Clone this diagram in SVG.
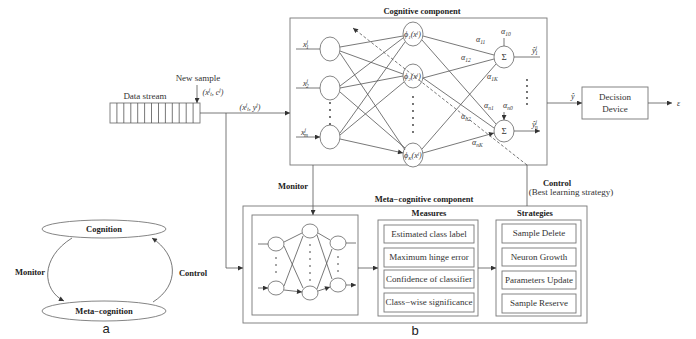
<svg xmlns="http://www.w3.org/2000/svg" width="696" height="339" viewBox="0 0 696 339">
<defs>
<marker id="ah" viewBox="0 0 10 10" refX="10" refY="5" markerWidth="6" markerHeight="5" markerUnits="userSpaceOnUse" orient="auto"><path d="M0,0 L10,5 L0,10 z" fill="#333"/></marker>
<style>
.ln{stroke:#555;stroke-width:0.8;fill:none}
.a{stroke:#555;stroke-width:0.8;fill:none;marker-end:url(#ah)}
.bx{stroke:#777;stroke-width:0.9;fill:#fff}
.t{font-family:"Liberation Serif",serif;font-size:9px;fill:#333}
.b{font-family:"Liberation Serif",serif;font-size:8.5px;font-weight:bold;fill:#222}
.s{font-family:"Liberation Serif",serif;font-size:8px;fill:#333;font-style:italic}
.lab{font-family:"Liberation Sans",sans-serif;font-size:13px;fill:#222}
.nd{stroke:#666;stroke-width:0.8;fill:#fff}
.dot{fill:#333}
</style>
</defs>
<rect width="696" height="339" fill="#fff"/>

<!-- Panel a -->
<g id="cognition"><ellipse cx="104" cy="229" rx="62" ry="9" class="nd"/><text x="104" y="232" class="b" text-anchor="middle">Cognition</text></g>
<g id="metacognition"><ellipse cx="104" cy="311" rx="62" ry="10" class="nd"/><text x="104" y="314" class="b" text-anchor="middle">Meta−cognition</text></g>
<g id="connectors-a">
<path d="M72,238 C40,258 42,290 64,301" class="a"/>
<path d="M153,302 C180,285 178,255 152,238" class="a"/>
<text x="30" y="275" class="b" text-anchor="middle">Monitor</text>
<text x="193" y="276" class="b" text-anchor="middle">Control</text>
</g>
<text x="106" y="333" class="lab" text-anchor="middle">a</text>

<!-- Data stream -->
<g id="datastream">
<rect x="110" y="103" width="90" height="20" class="bx"/>
<path d="M116.9,103v20M123.8,103v20M130.8,103v20M137.7,103v20M144.6,103v20M151.5,103v20M158.5,103v20M165.4,103v20M172.3,103v20M179.2,103v20M186.2,103v20M193.1,103v20" class="ln"/>
<text x="145" y="99" class="t" text-anchor="middle" font-size="9.5">Data stream</text>
<text x="198" y="81" class="t" text-anchor="middle" font-size="9.5">New sample</text>
<text x="213" y="95" class="s" text-anchor="middle">(x<tspan font-size="5.5" dy="-3">j</tspan><tspan font-size="5.5" dy="4">t</tspan><tspan dy="-1">, c</tspan><tspan font-size="5.5" dy="-3">j</tspan><tspan dy="3">)</tspan></text>
</g>

<!-- Cognitive component -->
<g id="cognitive">
<rect x="290" y="18" width="257" height="147" class="bx"/>
<text x="422" y="14" class="b" text-anchor="middle" font-size="9">Cognitive component</text>
<g id="inputs">
<ellipse cx="330" cy="49" rx="10" ry="12" class="nd"/>
<ellipse cx="330" cy="88" rx="10" ry="12" class="nd"/>
<ellipse cx="330" cy="137" rx="10" ry="12" class="nd"/>
<text x="303" y="47" class="s">x<tspan font-size="5.5" dy="-3">j</tspan><tspan font-size="5.5" dx="-2" dy="5">1</tspan></text>
<text x="303" y="86" class="s">x<tspan font-size="5.5" dy="-3">j</tspan><tspan font-size="5.5" dx="-2" dy="5">2</tspan></text>
<text x="301" y="135" class="s">x<tspan font-size="5.5" dy="-3">j</tspan><tspan font-size="5.5" dx="-2" dy="5">m</tspan></text>
<circle cx="330" cy="103" r="0.9" class="dot"/><circle cx="330" cy="110" r="0.9" class="dot"/><circle cx="330" cy="117" r="0.9" class="dot"/><circle cx="330" cy="124" r="0.9" class="dot"/>
</g>
<g id="hidden">
<ellipse cx="413" cy="34" rx="10" ry="12" class="nd"/>
<ellipse cx="413" cy="76" rx="10" ry="12" class="nd"/>
<ellipse cx="413" cy="155" rx="10" ry="12" class="nd"/>
<text x="404" y="37" class="s">ϕ<tspan font-size="5" dy="2">1</tspan><tspan dy="-2">(x</tspan><tspan font-size="5" dy="-3">j</tspan><tspan dy="3">)</tspan></text>
<text x="404" y="79" class="s">ϕ<tspan font-size="5" dy="2">2</tspan><tspan dy="-2">(x</tspan><tspan font-size="5" dy="-3">j</tspan><tspan dy="3">)</tspan></text>
<text x="404" y="158" class="s">ϕ<tspan font-size="5" dy="2">K</tspan><tspan dy="-2">(x</tspan><tspan font-size="5" dy="-3">j</tspan><tspan dy="3">)</tspan></text>
<circle cx="413" cy="97" r="0.9" class="dot"/><circle cx="413" cy="104" r="0.9" class="dot"/><circle cx="413" cy="111" r="0.9" class="dot"/><circle cx="413" cy="118" r="0.9" class="dot"/><circle cx="413" cy="125" r="0.9" class="dot"/><circle cx="413" cy="132" r="0.9" class="dot"/>
</g>
<g id="outputs">
<ellipse cx="504" cy="57" rx="10" ry="11" class="nd"/>
<ellipse cx="504" cy="131" rx="10" ry="11" class="nd"/>
<text x="504" y="60" class="t" text-anchor="middle">Σ</text>
<text x="504" y="134" class="t" text-anchor="middle">Σ</text>
<text x="532" y="53" class="s">ŷ<tspan font-size="5.5" dy="-3">j</tspan><tspan font-size="5.5" dx="-2" dy="5">1</tspan></text>
<text x="532" y="127" class="s">ŷ<tspan font-size="5.5" dy="-3">j</tspan><tspan font-size="5.5" dx="-2" dy="5">n</tspan></text>
<circle cx="527" cy="80" r="0.9" class="dot"/><circle cx="527" cy="86" r="0.9" class="dot"/><circle cx="527" cy="92" r="0.9" class="dot"/><circle cx="527" cy="98" r="0.9" class="dot"/><circle cx="527" cy="104" r="0.9" class="dot"/>
</g>
<g id="alphas">
<text x="476" y="42" class="s">α<tspan font-size="5.5" dy="2">11</tspan></text>
<text x="461" y="60" class="s">α<tspan font-size="5.5" dy="2">12</tspan></text>
<text x="487" y="79" class="s">α<tspan font-size="5.5" dy="2">1K</tspan></text>
<text x="501" y="34" class="s">α<tspan font-size="5.5" dy="2">10</tspan></text>
<text x="484" y="108" class="s">α<tspan font-size="5.5" dy="2">n1</tspan></text>
<text x="503" y="108" class="s">α<tspan font-size="5.5" dy="2">n0</tspan></text>
<text x="461" y="119" class="s">α<tspan font-size="5.5" dy="2">n2</tspan></text>
<text x="472" y="145" class="s">α<tspan font-size="5.5" dy="2">nK</tspan></text>
</g>
</g>

<!-- Decision device -->
<g id="decision">
<rect x="582" y="87" width="66" height="32" class="bx"/>
<text x="615" y="100" class="t" text-anchor="middle" font-size="10.5">Decision</text>
<text x="615" y="112" class="t" text-anchor="middle" font-size="10.5">Device</text>
<text x="571" y="99" class="s" font-size="9">ŷ</text>
<text x="677" y="106" class="s" font-size="9">ε</text>
</g>

<!-- Meta-cognitive component -->
<g id="metacognitive">
<rect x="243" y="206" width="344" height="117" class="bx"/>
<text x="424" y="202" class="b" text-anchor="middle" font-size="9">Meta−cognitive component</text>
<g id="meta-nn">
<rect x="252" y="215" width="106" height="100" class="bx"/>
<ellipse cx="276" cy="244" rx="8" ry="7" class="nd"/>
<ellipse cx="276" cy="288" rx="8" ry="7" class="nd"/>
<ellipse cx="310" cy="231" rx="8" ry="7" class="nd"/>
<ellipse cx="310" cy="293" rx="8" ry="7" class="nd"/>
<ellipse cx="338" cy="243" rx="8" ry="7" class="nd"/>
<ellipse cx="338" cy="285" rx="8" ry="7" class="nd"/>
<circle cx="276" cy="258" r="0.8" class="dot"/><circle cx="276" cy="265" r="0.8" class="dot"/><circle cx="276" cy="272" r="0.8" class="dot"/>
<circle cx="310" cy="245" r="0.8" class="dot"/><circle cx="310" cy="252" r="0.8" class="dot"/><circle cx="310" cy="259" r="0.8" class="dot"/><circle cx="310" cy="266" r="0.8" class="dot"/><circle cx="310" cy="273" r="0.8" class="dot"/><circle cx="310" cy="280" r="0.8" class="dot"/>
<circle cx="338" cy="257" r="0.8" class="dot"/><circle cx="338" cy="264" r="0.8" class="dot"/><circle cx="338" cy="271" r="0.8" class="dot"/>
<path d="M258,244h10M258,288h10" class="a"/>
<path d="M346,243h10M346,285h10" class="a"/>
<path d="M284,242L302,233M284,246L303,288M284,286L303,236M284,290L302,292" class="a"/>
<path d="M318,233L330,240M317,235L332,279M317,289L332,249M318,291L330,287" class="a"/>
</g>
<g id="measures">
<rect x="378" y="220" width="100" height="96" class="bx"/>
<text x="429" y="216" class="b" text-anchor="middle">Measures</text>
<rect x="384" y="225" width="90" height="18" class="bx"/><text x="429" y="237" class="t" text-anchor="middle">Estimated class label</text>
<rect x="384" y="248" width="90" height="19" class="bx"/><text x="429" y="260" class="t" text-anchor="middle">Maximum hinge error</text>
<rect x="384" y="270" width="90" height="18" class="bx"/><text x="429" y="282" class="t" text-anchor="middle">Confidence of classifier</text>
<rect x="384" y="293" width="90" height="19" class="bx"/><text x="429" y="305" class="t" text-anchor="middle">Class−wise significance</text>
</g>
<g id="strategies">
<rect x="496" y="220" width="85" height="96" class="bx"/>
<text x="535" y="216" class="b" text-anchor="middle">Strategies</text>
<rect x="502" y="224" width="74" height="19" class="bx"/><text x="539" y="236" class="t" text-anchor="middle">Sample Delete</text>
<rect x="502" y="248" width="74" height="18" class="bx"/><text x="539" y="260" class="t" text-anchor="middle">Neuron Growth</text>
<rect x="502" y="271" width="74" height="18" class="bx"/><text x="539" y="283" class="t" text-anchor="middle">Parameters Update</text>
<rect x="502" y="294" width="74" height="19" class="bx"/><text x="539" y="306" class="t" text-anchor="middle">Sample Reserve</text>
</g>
</g>
<text x="415" y="335" class="lab" text-anchor="middle">b</text>

<!-- Connectors -->
<g id="connectors">
<path d="M197,85V103" class="a"/>
<path d="M200,113H290" class="a"/>
<text x="250" y="110" class="s" text-anchor="middle">(x<tspan font-size="5.5" dy="-3">j</tspan><tspan font-size="5.5" dy="4">t</tspan><tspan dy="-1">, y</tspan><tspan font-size="5.5" dy="-3">j</tspan><tspan dy="3">)</tspan></text>
<path d="M226,113V268H243" class="a"/>
<path d="M296,49H320M296,88H320M296,137H320" class="a"/>
<path d="M340,47L403,36M340,51L403,74M340,53L405,150M340,86L403,38M340,88L403,76M340,92L405,148M340,133L405,42M340,135L404,82M340,139L403,153" class="a"/>
<path d="M423,36L494,55M422,40L496,124M423,78L494,59M423,78L494,128M422,149L496,64M423,153L494,133" class="a"/>
<path d="M504,38V46M504,112V120" class="a"/>
<path d="M514,57H540M514,131H540" class="a"/>
<path d="M527,165L353,28" class="a" stroke-dasharray="3,2"/>
<path d="M547,103H582" class="a"/>
<path d="M648,103H672" class="a"/>
<path d="M313,165V215" class="a"/>
<text x="293" y="189" class="b" text-anchor="middle">Monitor</text>
<path d="M527,165V206" class="ln"/>
<text x="557" y="186" class="b" text-anchor="middle">Control</text>
<text x="571" y="195" class="t" text-anchor="middle" font-size="8.5">(Best learning strategy)</text>
<path d="M358,268H378" class="a"/>
<path d="M478,268H496" class="a"/>
</g>
</svg>
